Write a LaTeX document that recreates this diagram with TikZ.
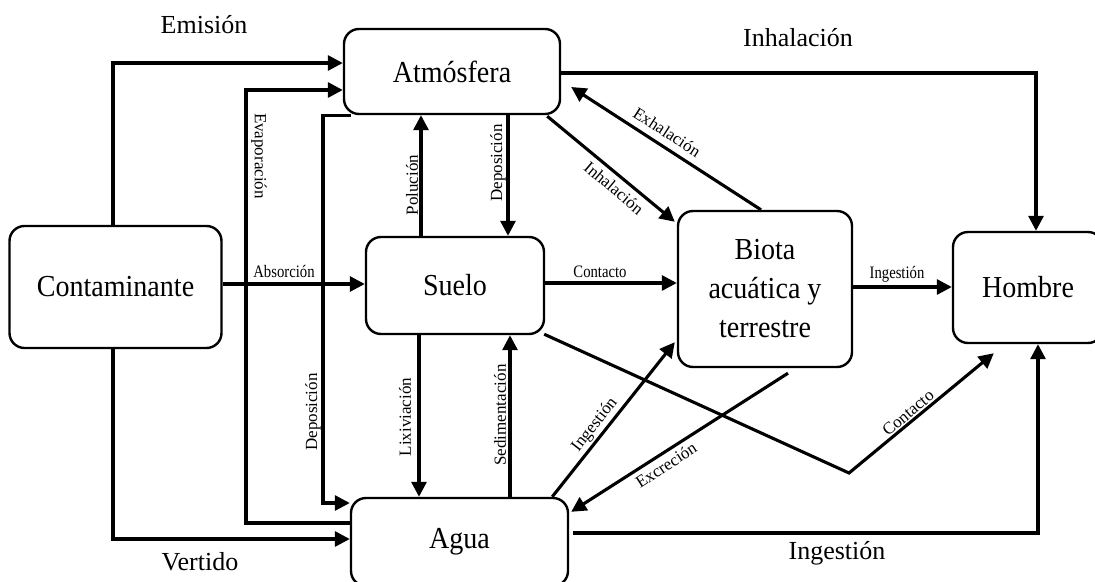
\documentclass[tikz,border=0pt]{standalone}
\usepackage{fontspec}
\setmainfont{Liberation Serif}
\newfontfamily\boxfont[FakeStretch=0.92]{Liberation Serif}
\newfontfamily\narrowfont[FakeStretch=0.84]{Liberation Serif}
\usetikzlibrary{arrows.meta,calc}
\begin{document}
\begin{tikzpicture}[x=1pt,y=-1pt,
  box/.style={draw, line width=2.4pt, rounded corners=15pt, inner sep=0pt,
    font=\boxfont\fontsize{30.5}{39}\selectfont, align=center},
  arr/.style={line width=3.1pt, -{Triangle[length=15pt,width=15pt]}},
  big/.style={font=\fontsize{26}{30}\selectfont, inner sep=0pt},
  sm/.style={font=\fontsize{17}{20}\selectfont, inner sep=0pt},
  smh/.style={font=\narrowfont\fontsize{17.5}{20}\selectfont, inner sep=0pt}]
\useasboundingbox (0,0) rectangle (1095,581);

% boxes
\node[box, minimum width=212pt, minimum height=122pt] (cont) at (115.5,287) {Contaminante};
\node[box, minimum width=216pt, minimum height=85pt] (atm) at (452,71.5) {Atmósfera};
\node[box, minimum width=178pt, minimum height=97pt] (suelo) at (455,285.5) {Suelo};
\node[box, minimum width=217pt, minimum height=88pt] (agua) at (459.5,542) {Agua};
\node[box, minimum width=174pt, minimum height=156pt] (biota) at (765,289) {Biota\\acuática y\\terrestre};
\node[box, minimum width=150pt, minimum height=111pt] (hombre) at (1028,287.5) {Hombre};

% Emisión
\draw[arr] ([xshift=-2.5pt]cont.north) |- (atm.west |- 0,63);
\node[big] (lemision) at (204,25) {Emisión};
% Evaporación
\draw[arr] (agua.west |- 0,523) -| (246,90) -- (atm.west |- 0,90);
\node[sm, rotate=-90] (levap) at (259,156) {Evaporación};
% Deposición (atm -> agua)
\draw[arr] ($(atm.south west)+(8,0)$) -| (323,503) -- (agua.west |- 0,503);
\node[sm, rotate=90] (ldep1) at (313,412) {Deposición};
% Vertido
\draw[arr] ([xshift=-2.5pt]cont.south) |- (agua.west |- 0,539);
\node[big] (lvert) at (200,562) {Vertido};
% Absorción
\draw[arr] (cont.east |- 0,284) -- (suelo.west |- 0,284);
\node[smh] (labs) at (284,271) {Absorción};
% Polución
\draw[arr] (suelo.north -| 421,0) -- (atm.south -| 421,0);
\node[sm, rotate=90] (lpol) at (412,185) {Polución};
% Deposición (atm -> suelo)
\draw[arr] (atm.south -| 508,0) -- (suelo.north -| 508,0);
\node[sm, rotate=90] (ldep2) at (498,163) {Deposición};
% Lixiviación
\draw[arr] (suelo.south -| 419,0) -- (agua.north -| 419,0);
\node[sm, rotate=90] (llix) at (405,417) {Lixiviación};
% Sedimentación
\draw[arr] (agua.north -| 510,0) -- (suelo.south -| 510,0);
\node[sm, rotate=90] (lsed) at (500,415) {Sedimentación};
% Contacto suelo -> biota
\draw[arr] (suelo.east |- 0,283) -- (biota.west |- 0,283);
\node[smh] (lcont1) at (600,272) {Contacto};
% Ingestión biota -> hombre
\draw[arr] (biota.east |- 0,287) -- (hombre.west |- 0,287);
\node[smh] (ling1) at (897,274) {Ingestión};
% Inhalación atm -> hombre
\draw[arr] (atm.east |- 0,73) -| (hombre.north -| 1036,0);
\node[big] (linh1) at (798,38) {Inhalación};
% Ingestión agua -> hombre
\draw[arr] ([xshift=4pt]agua.east |- 0,533) -| (hombre.south -| 1038,0);
\node[big] (ling3) at (837,553) {Ingestión};
% Exhalación biota -> atm
\draw[arr] (biota.north -| 761,0) -- ($(atm.east)+(10,15.5)$);
\node[sm, rotate=-33] (lexh) at (667,132) {Exhalación};
% Inhalación atm -> biota
\draw[arr] ($(atm.south east)+(-14,1)$) -- ($(biota.north west)+(-2,12)$);
\node[sm, rotate=-40] (linh2) at (614,188) {Inhalación};
% Ingestión agua -> biota
\draw[arr] ($(agua.north east)+(-17,0)$) -- ($(biota.south west)+(-2,-26)$);
\node[sm, rotate=52] (ling2) at (595,425) {Ingestión};
% Excreción biota -> agua
\draw[arr] ($(biota.south)+(23,5)$) -- ($(agua.north east)+(2,15)$);
\node[sm, rotate=33] (lexc) at (666,465) {Excreción};
% Contacto suelo -> hombre
\coordinate (cbend) at (849,473);
\draw[arr] ($(suelo.south east)+(-1,-1)$) -- (cbend) -- ($(hombre.south west)+(42,9)$);
\node[sm, rotate=40] (lcont2) at (908,413) {Contacto};
\end{tikzpicture}
\end{document}
